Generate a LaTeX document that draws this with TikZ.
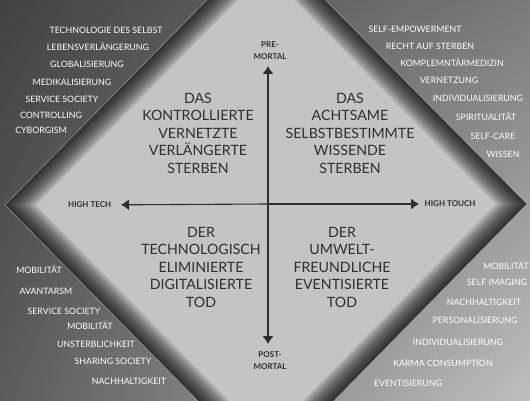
\documentclass[tikz,border=0pt]{standalone}
\usepackage{fontspec}
\setmainfont{Lato}
\usetikzlibrary{arrows.meta,shadings}
\colorlet{ink}{black!82}
\tikzset{
  >={Latex[length=8pt,width=11pt]},
  field/.style = {font=\fontsize{14.2}{17.5}\selectfont, align=center, text=ink},
  trend/.style = {font=\fontsize{8.8}{9}\selectfont, text=white, inner sep=0pt},
  pole/.style  = {font=\bfseries\fontsize{8}{11.5}\selectfont, align=center, text=ink, inner sep=1.5pt}
}

\begin{document}
\begin{tikzpicture}[x=1pt,y=-1pt]
  \useasboundingbox (0,0) rectangle (530,401);
  \shade[upper left=black!74, upper right=black!52, lower left=black!64, lower right=black!25]
    (0,0) rectangle (530,401);

  % the diamond with its dark rim
  \coordinate (w) at (5,205);
  \coordinate (n) at (266,-60);
  \coordinate (e) at (527,204);
  \coordinate (s) at (266,470);
  \fill[black!23] (w) -- (n) -- (e) -- (s) -- cycle;
  \begin{scope}
    \clip (w) -- (n) -- (e) -- (s) -- cycle;
    \foreach \w in {44,40,...,4}
      \draw[black, opacity=0.11, line width=\w pt, line join=miter] (w) -- (n) -- (e) -- (s) -- cycle;
  \end{scope}
  \draw[white, opacity=0.4, line width=0.6pt] (w) -- (n) -- (e) -- (s) -- cycle;

  % axes
  \coordinate (o) at (268,204);
  \node[pole, anchor=south] (pre)  at (270,61)  {PRE-\\MORTAL};
  \node[pole, anchor=north] (post) at (270,350) {POST-\\MORTAL};
  \node[pole, anchor=east]  (tech)  at (113,205) {HIGH TECH};
  \node[pole, anchor=west]  (touch) at (423,204) {HIGH TOUCH};
  \draw[->, ink, line width=1.1pt, shorten >=5pt] (o) -- (o |- pre.south);
  \draw[->, ink, line width=1.1pt, shorten >=6pt] (o) -- (o |- post.north);
  \draw[->, ink, line width=1.1pt, shorten >=8pt] (o) -- (tech);
  \draw[->, ink, line width=1.1pt, shorten >=4pt] (o) -- (touch);

  % the four fields
  \node[field] (kontrolle) at (198,133) {DAS\\KONTROLLIERTE\\VERNETZTE\\VERLÄNGERTE\\STERBEN};
  \node[field] (achtsam)   at (350,133) {DAS\\ACHTSAME\\SELBSTBESTIMMTE\\WISSENDE\\STERBEN};
  \node[field] (technik)   at (201,267) {DER\\TECHNOLOGISCH\\ELIMINIERTE\\DIGITALISIERTE\\TOD};
  \node[field] (umwelt)    at (342,267) {DER\\UMWELT-\\FREUNDLICHE\\EVENTISIERTE\\TOD};

  % trends outside the diamond
  \foreach \txt/\x/\y [count=\i] in {
      TECHNOLOGIE DES SELBST/106/30, LEBENSVERLÄNGERUNG/98/47, GLOBALISIERUNG/87/64,
      MEDIKALISIERUNG/72/82, SERVICE SOCIETY/62/99, CONTROLLING/51/115, CYBORGISM/41/130}
    \node[trend] (kontrolle\i) at (\x,\y) {\txt};
  \foreach \txt/\x/\y [count=\i] in {
      SELF-EMPOWERMENT/415/29, RECHT AUF STERBEN/430/46, KOMPLEMNTÄRMEDIZIN/452/63,
      VERNETZUNG/449/80, INDIVIDUALISIERUNG/478/98, SPIRITUALITÄT/486/117,
      SELF-CARE/493/136, WISSEN/503/154}
    \node[trend] (achtsam\i) at (\x,\y) {\txt};
  \foreach \txt/\x/\y [count=\i] in {
      MOBILITÄT/39/270, AVANTARSM/46/291, SERVICE SOCIETY/64/311, MOBILITÄT/90/326,
      UNSTERBLICHKEIT/96/344, SHARING SOCIETY/113/361, NACHHALTIGKEIT/129/381}
    \node[trend] (technik\i) at (\x,\y) {\txt};
  \foreach \txt/\x/\y [count=\i] in {
      MOBILITÄT/506/266, SELF IMAGING/497/282, NACHHALTIGKEIT/484/302,
      PERSONALISIERUNG/475/320, INDIVIDUALISIERUNG/458/342,
      KARMA CONSUMPTION/443/363, EVENTISIERUNG/408/383}
    \node[trend] (umwelt\i) at (\x,\y) {\txt};
\end{tikzpicture}
\end{document}
